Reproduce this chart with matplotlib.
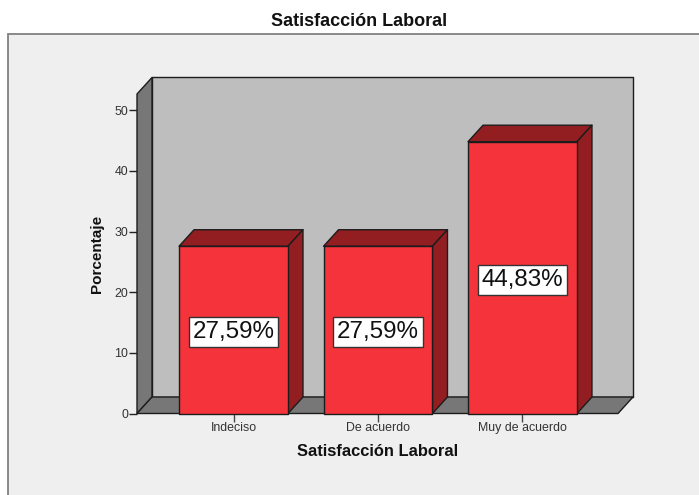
import numpy as np
import matplotlib
matplotlib.use('Agg')
import matplotlib.pyplot as plt
from matplotlib.patches import Polygon, Rectangle

### data
categories = ['Indeciso', 'De acuerdo', 'Muy de acuerdo']
porcentaje = [27.59, 27.59, 44.83]
bar_labels = ['27,59%', '27,59%', '44,83%']
y_ticks = [0, 10, 20, 30, 40, 50]

### colours
panel_col = '#efefef'
wall_col = '#bebebe'
floor_col = '#777777'
front_col = '#f4333b'
dark_col = '#921e22'
line_col = '#1c1c1c'

W, H = 699, 495
plt.rcParams['font.family'] = ['Liberation Sans', 'DejaVu Sans']

fig = plt.figure(figsize=(W / 100, H / 100), dpi=100, facecolor='white')
fig.patches.append(Rectangle((8 / W, -0.02), 1, 1.02 - 34 / H, transform=fig.transFigure, zorder=-1,
                             facecolor=panel_col, edgecolor='#808080', linewidth=1.3))

# axes = front plane of the 3d box
ax = fig.add_axes([137 / W, (H - 413.5) / H, 481 / W, 319.5 / H])
ax.patch.set_alpha(0)
x0, x1 = -0.668, 2.661
y1 = 52.7
ax.set_xlim(x0, x1)
ax.set_ylim(0, y1)
for s in ax.spines.values():
    s.set_visible(False)

# depth of the box in data units
dx = 15 / 144.5
dy = 16.5 / 6.06
bw = 0.754


def poly(pts, fc, z):
    ax.add_patch(Polygon(pts, closed=True, facecolor=fc, edgecolor=line_col,
                         linewidth=1.0, clip_on=False, zorder=z, joinstyle='round'))


poly([(x0 + dx, dy), (x1 + dx, dy), (x1 + dx, y1 + dy), (x0 + dx, y1 + dy)], wall_col, 1)
poly([(x0, 0), (x0 + dx, dy), (x0 + dx, y1 + dy), (x0, y1)], floor_col, 2)
poly([(x0, 0), (x1, 0), (x1 + dx, dy), (x0 + dx, dy)], floor_col, 2)

xs = np.arange(len(categories))
for x, v, lab in zip(xs, porcentaje, bar_labels):
    l, r = x - bw / 2, x + bw / 2
    poly([(l, v), (r, v), (r + dx, v + dy), (l + dx, v + dy)], dark_col, 3)
    poly([(r, 0), (r + dx, dy), (r + dx, v + dy), (r, v)], dark_col, 3)
    poly([(l, 0), (r, 0), (r, v), (l, v)], front_col, 4)
    ax.text(x, v / 2, lab, ha='center', va='center_baseline', fontsize=17.4, color='#111111', zorder=5,
            bbox=dict(boxstyle='square,pad=0.16', facecolor='white', edgecolor='#333333', linewidth=1))

ax.set_xticks(xs)
ax.set_xticklabels(categories)
ax.set_yticks(y_ticks)
ax.tick_params(axis='x', length=5.5, width=1, color='#444444', labelsize=8.9, labelcolor='#333333', pad=0.5)
ax.tick_params(axis='y', length=6, width=1, color='#222222', labelsize=8.9, labelcolor='#333333', pad=0.5)

ax.set_xlabel('Satisfacción Laboral', fontsize=11.9, fontweight='bold', labelpad=7.5, color='#111111')
ax.set_ylabel('Porcentaje', fontsize=11, fontweight='bold', labelpad=7.5, color='#111111')
fig.text(359.5 / W, (H - 22) / H, 'Satisfacción Laboral', ha='center', va='center',
         fontsize=13, fontweight='bold', color='#111111')

plt.savefig('out.png', dpi=100)
